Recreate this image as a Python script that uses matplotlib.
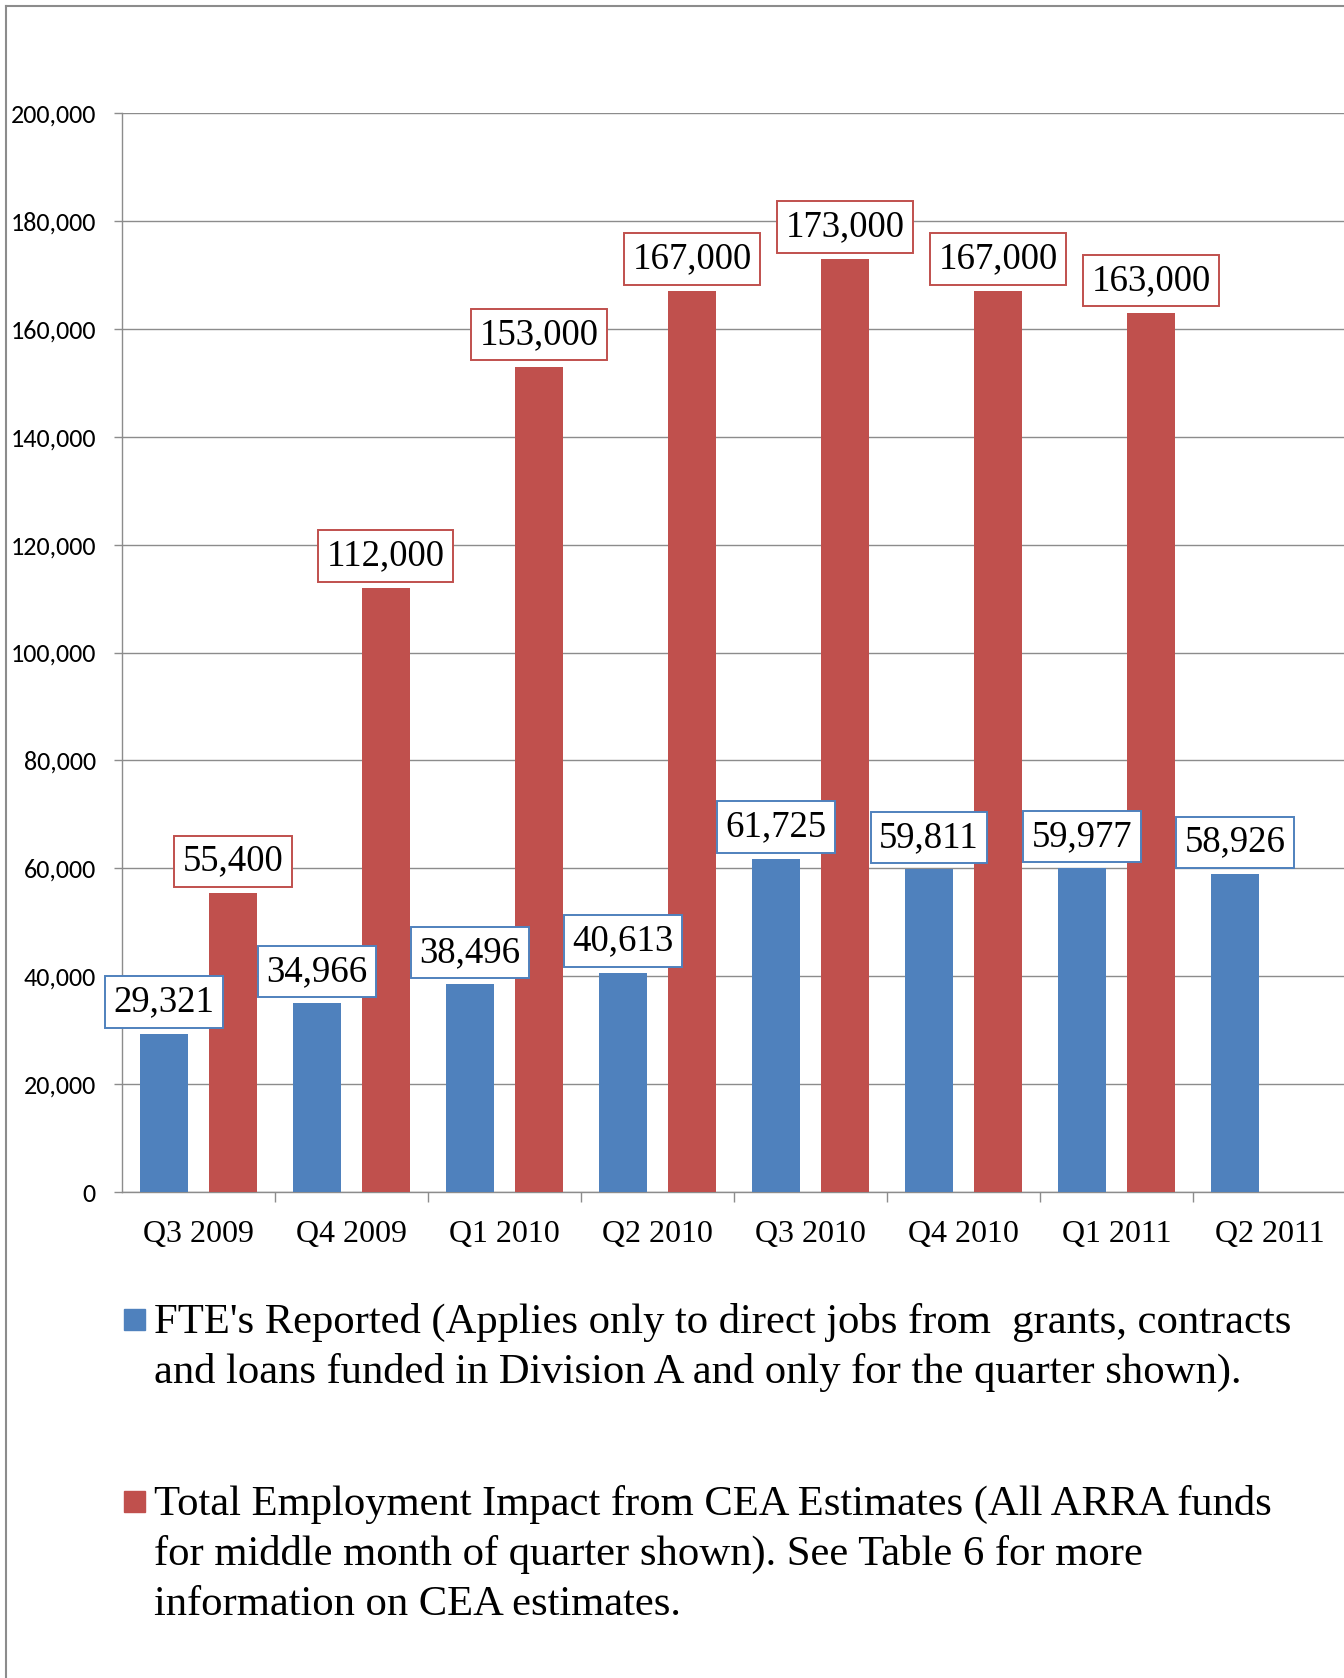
import matplotlib
matplotlib.use('Agg')
import matplotlib.pyplot as plt
import numpy as np
from matplotlib.lines import Line2D
from matplotlib.patches import Rectangle

quarters = ['Q3 2009', 'Q4 2009', 'Q1 2010', 'Q2 2010',
            'Q3 2010', 'Q4 2010', 'Q1 2011', 'Q2 2011']
fte = [29321, 34966, 38496, 40613, 61725, 59811, 59977, 58926]
cea = [55400, 112000, 153000, 167000, 173000, 167000, 163000, None]
legend_labels = [
    "FTE's Reported (Applies only to direct jobs from  grants, contracts\n"
    "and loans funded in Division A and only for the quarter shown).",
    "Total Employment Impact from CEA Estimates (All ARRA funds\n"
    "for middle month of quarter shown). See Table 6 for more\n"
    "information on CEA estimates.",
]

blue = '#4F81BD'
red = '#C0504D'
grid_c = '#8C8C8C'
serif = ['Liberation Serif', 'DejaVu Serif']
sans = ['Carlito', 'DejaVu Sans']

W, H = 1344, 1678
fig = plt.figure(figsize=(W / 100, H / 100), dpi=100)
ax = fig.add_axes([122 / W, 1 - 1192 / H, 1224 / W, (1192 - 113) / H])

x = np.arange(len(quarters))
bw = 0.31
off = 0.225
ax.bar(x - off, fte, bw, color=blue, zorder=3)
cea_x = [xi + off for xi, v in zip(x, cea) if v is not None]
cea_v = [v for v in cea if v is not None]
ax.bar(cea_x, cea_v, bw, color=red, zorder=3)

def label(xs, vs, col):
    for xi, v in zip(xs, vs):
        ax.annotate(f'{v:,}', (xi, v), xytext=(0, 10.5), textcoords='offset points',
                    ha='center', va='bottom', fontsize=26.5, family=serif, zorder=5,
                    bbox=dict(boxstyle='square,pad=0.23', fc='white', ec=col, lw=1.4))

label(x - off, fte, blue)
label(cea_x, cea_v, red)

ax.set_xlim(-0.5, len(quarters) - 0.5)
ax.set_ylim(0, 200000)
ax.set_yticks(np.arange(0, 200001, 20000))
ax.set_yticklabels([f'{v:,}' for v in range(0, 200001, 20000)], family=sans, fontsize=18.8)
ax.yaxis.grid(True, color=grid_c, lw=1.0, zorder=0)
ax.tick_params(axis='y', length=5.8, width=1.0, color=grid_c, pad=13)

ax.set_xticks(x)
ax.set_xticklabels(quarters, family=serif, fontsize=23)
ax.set_xticks(np.arange(0.5, len(quarters) - 0.5, 1), minor=True)
ax.tick_params(axis='x', which='major', length=0, pad=20)
ax.tick_params(axis='x', which='minor', length=7, width=1.0, color=grid_c)

for s in ['top', 'right']:
    ax.spines[s].set_visible(False)
for s in ['left', 'bottom']:
    ax.spines[s].set_color(grid_c)
    ax.spines[s].set_linewidth(1.0)

# outer chart frame (only top and left edges visible)
fig.add_artist(Line2D([6 / W, 6 / W], [0, 1 - 6 / H], color=grid_c, lw=1.5))
fig.add_artist(Line2D([6 / W, 1], [1 - 6 / H, 1 - 6 / H], color=grid_c, lw=1.5))

# legend
for lab, col, sq_top in zip(legend_labels, [blue, red], [1309, 1491]):
    fig.add_artist(Rectangle((124 / W, 1 - (sq_top + 21) / H), 21 / W, 21 / H,
                             color=col, transform=fig.transFigure))
    fig.text(154 / W, 1 - (sq_top - 6) / H, lab, family=serif, fontsize=30.7,
             va='top', ha='left', linespacing=1.37)

fig.savefig('out.png', dpi=100)
